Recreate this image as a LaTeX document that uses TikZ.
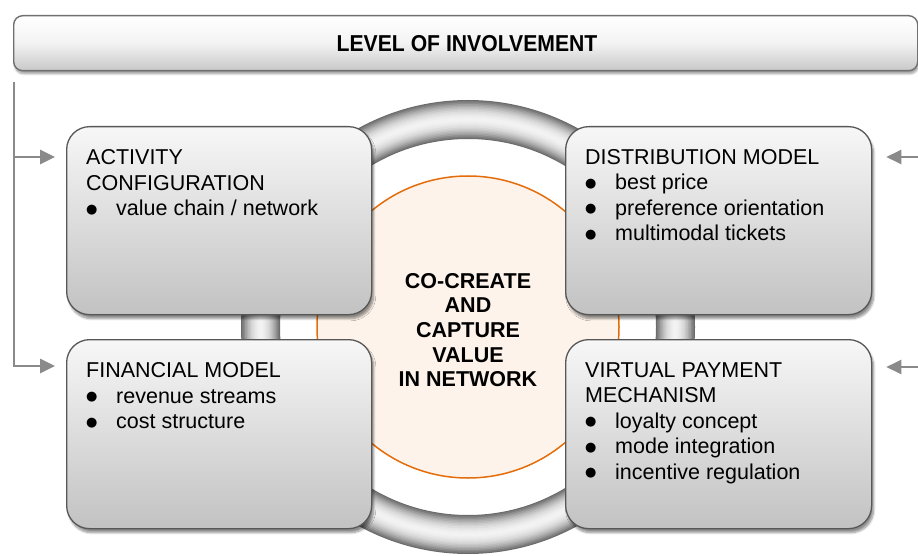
\documentclass[tikz,border=0pt]{standalone}
\usepackage{fontspec}
\setmainfont{Liberation Sans}
\newfontfamily\titlefont[FakeStretch=0.92]{Liberation Sans}
\newfontfamily\dejavu{DejaVu Sans}
\usetikzlibrary{arrows.meta,shadows.blur,calc}
\definecolor{boxtop}{HTML}{F7F7F7}
\definecolor{boxbot}{HTML}{C2C2C2}
\definecolor{boxline}{HTML}{575757}
\definecolor{arrowgray}{HTML}{8A8A8A}
\definecolor{peach}{HTML}{FDF3EA}
\definecolor{orangeline}{HTML}{E46C0A}
\definecolor{ringdark}{HTML}{6A6A6A}
\definecolor{ringlight}{HTML}{F2F2F2}
\newcommand{\bul}{\makebox[30pt][l]{\raisebox{2.7pt}{\dejavu\fontsize{13}{13}\selectfont ●}}}
\begin{document}
\begin{tikzpicture}[x=1pt,y=-1pt,
  box/.style={draw=boxline, line width=1.3pt, rounded corners=23pt,
    top color=boxtop, bottom color=boxbot, anchor=north west,
    minimum width=305pt, minimum height=188pt, inner sep=0pt,
    blur shadow={shadow xshift=2pt, shadow yshift=-4pt, shadow blur steps=8, shadow opacity=45}},
  boxtext/.style={inner sep=0pt, align=left, anchor=north west,
    font=\fontsize{21.5}{25.5}\selectfont},
  conn/.style={draw=arrowgray, line width=2.6pt,
    -{Triangle[length=15pt,width=14pt]}},
  plain/.style={draw=arrowgray, line width=2.6pt}]
\useasboundingbox (0,0) rectangle (918,556);

% title bar
\node[draw=boxline!85, line width=1.4pt, rounded corners=9pt,
  top color=white, bottom color=boxbot!90, middle color=boxtop!92!boxbot,
  anchor=north west, minimum width=904pt, minimum height=55pt, inner sep=0pt,
  blur shadow={shadow xshift=1pt, shadow yshift=-3pt, shadow blur steps=6, shadow opacity=40}]
  (bar) at (13,15) {};
\node[font=\titlefont\bfseries\fontsize{23}{26}\selectfont] (title) at (467,43.5) {LEVEL OF INVOLVEMENT};

% ring (tube look)
\coordinate (cen) at (468,327);
\foreach \w/\c in {39/0,37/12,34/25,31/38,28/50,25/60,22/70,19/78,16/85,12/92,8/97,4/100}{
  \draw[ringlight!\c!ringdark, line width=\w pt] (cen) circle[radius=207.5];
}

% central circle
\node[circle, draw=orangeline, line width=1.5pt, fill=peach,
  minimum size=302pt, inner sep=0pt] (core) at (cen) {};

% boxes
\node[box] (a1) at (66,126) {};
\node[box, minimum width=306pt] (a2) at (565,126) {};
\node[box, minimum height=189pt] (a3) at (66,339) {};
\node[box, minimum width=306pt, minimum height=189pt] (a4) at (565,339) {};

% box texts
\node[boxtext] (t1) at (86,149.5) {ACTIVITY\\CONFIGURATION\\\bul value chain / network};
\node[boxtext] (t2) at (585,149) {DISTRIBUTION MODEL\\\bul best price\\\bul preference orientation\\\bul multimodal tickets};
\node[boxtext] (t3) at (86,362.5) {FINANCIAL MODEL\\\bul revenue streams\\\bul cost structure};
\node[boxtext] (t4) at (585,362.5) {VIRTUAL PAYMENT\\MECHANISM\\\bul loyalty concept\\\bul mode integration\\\bul incentive regulation};

% center text
\node[align=center, inner sep=0pt, font=\bfseries\fontsize{21.5}{24.7}\selectfont] (ctext) at (468,330)
  {CO-CREATE\\AND\\CAPTURE\\VALUE\\IN NETWORK};

% connectors
\coordinate (ltop) at (14,82);
\coordinate (lmid) at (14,157);
\coordinate (lbot) at (14,366);
\coordinate (rtop) at (918,157);
\coordinate (rbot) at (918,367);
\draw[plain] (ltop) -- (lmid);
\draw[conn] (lmid) -- ([xshift=-11pt]lmid -| a1.west);
\draw[conn] (lmid) |- ([xshift=-11pt]lbot -| a3.west);
\draw[conn] (rtop) -- ([xshift=14pt]rtop -| a2.east);
\draw[conn] (rbot) -- ([xshift=14pt]rbot -| a4.east);
\end{tikzpicture}
\end{document}
